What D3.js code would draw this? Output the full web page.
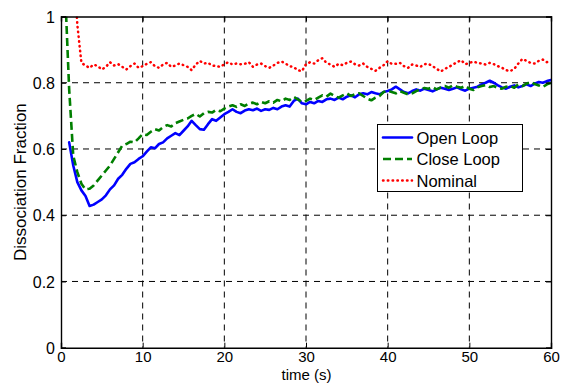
<!DOCTYPE html>
<html>
<head>
<meta charset="utf-8">
<script src="https://cdn.jsdelivr.net/npm/d3@7"></script>
<style>
  html, body { margin: 0; padding: 0; background: #fff; }
  svg { display: block; font-family: "Liberation Sans", Arial, Helvetica, sans-serif; }
</style>
</head>
<body>
<svg id="chart" width="562" height="383"></svg>
<script>
// ---- data ----
const timeStep = 0.5;              // samples every 0.5 s, from 0 to 60 s
const xTicks = [0, 10, 20, 30, 40, 50, 60];
const yTicks = [0, 0.2, 0.4, 0.6, 0.8, 1];
const yTickLabels = ["0", "0.2", "0.4", "0.6", "0.8", "1"];
const seriesNames = ["Open Loop", "Close Loop", "Nominal"];

const openLoop = [
  null, null, 0.62, 0.55, 0.50, 0.475, 0.458, 0.428, 0.432, 0.44,
  0.448, 0.46, 0.478, 0.49, 0.51, 0.522, 0.54, 0.555, 0.56, 0.57,
  0.578, 0.592, 0.605, 0.602, 0.615, 0.62, 0.632, 0.64, 0.648, 0.642,
  0.655, 0.668, 0.685, 0.672, 0.66, 0.658, 0.675, 0.69, 0.685, 0.695,
  0.705, 0.712, 0.72, 0.712, 0.708, 0.716, 0.72, 0.717, 0.722, 0.715,
  0.72, 0.718, 0.724, 0.72, 0.728, 0.732, 0.728, 0.745, 0.752, 0.738,
  0.735, 0.742, 0.738, 0.745, 0.742, 0.75, 0.752, 0.748, 0.755, 0.75,
  0.758, 0.762, 0.756, 0.765, 0.768, 0.765, 0.772, 0.768, 0.765, 0.772,
  0.775, 0.78, 0.788, 0.78, 0.772, 0.768, 0.775, 0.78, 0.776, 0.782,
  0.778, 0.774, 0.78, 0.785, 0.782, 0.778, 0.782, 0.786, 0.78, 0.776,
  0.782, 0.785, 0.788, 0.795, 0.80, 0.806, 0.80, 0.792, 0.786, 0.782,
  0.788, 0.792, 0.786, 0.79, 0.795, 0.79, 0.797, 0.802, 0.80, 0.805,
  0.808
];

const closeLoop = [
  null, 1.08, 0.78, 0.58, 0.53, 0.495, 0.478, 0.48, 0.49, 0.505,
  0.52, 0.535, 0.55, 0.57, 0.59, 0.61, 0.615, 0.622, 0.62, 0.632,
  0.645, 0.642, 0.652, 0.66, 0.656, 0.666, 0.672, 0.668, 0.678, 0.683,
  0.688, 0.692, 0.70, 0.706, 0.698, 0.708, 0.712, 0.71, 0.718, 0.714,
  0.722, 0.728, 0.732, 0.727, 0.735, 0.73, 0.737, 0.74, 0.735, 0.742,
  0.738, 0.744, 0.74, 0.748, 0.744, 0.752, 0.748, 0.757, 0.75, 0.742,
  0.745, 0.752, 0.748, 0.755, 0.762, 0.758, 0.767, 0.76, 0.755, 0.762,
  0.768, 0.76, 0.765, 0.768, 0.76, 0.752, 0.747, 0.755, 0.76, 0.772,
  0.776, 0.772, 0.768, 0.775, 0.77, 0.765, 0.768, 0.775, 0.78, 0.784,
  0.782, 0.787, 0.78, 0.786, 0.79, 0.785, 0.792, 0.788, 0.785, 0.79,
  0.782, 0.778, 0.786, 0.79, 0.793, 0.787, 0.79, 0.784, 0.782, 0.788,
  0.79, 0.785, 0.795, 0.79, 0.797, 0.802, 0.796, 0.792, 0.787, 0.795,
  0.80
];

const nominal = [
  null, null, null, 1.2, 0.975, 0.86, 0.852, 0.845, 0.855, 0.85,
  0.84, 0.848, 0.862, 0.852, 0.856, 0.848, 0.84, 0.85, 0.858, 0.845,
  0.85, 0.857, 0.862, 0.85, 0.845, 0.855, 0.86, 0.848, 0.852, 0.858,
  0.853, 0.848, 0.838, 0.855, 0.866, 0.858, 0.86, 0.852, 0.85, 0.848,
  0.856, 0.862, 0.855, 0.858, 0.856, 0.857, 0.862, 0.848, 0.855, 0.858,
  0.85, 0.845, 0.852, 0.86, 0.864, 0.858, 0.85, 0.847, 0.838, 0.835,
  0.856, 0.862, 0.858, 0.868, 0.874, 0.86, 0.855, 0.848, 0.857, 0.853,
  0.86, 0.864, 0.856, 0.852, 0.858, 0.848, 0.842, 0.836, 0.845, 0.853,
  0.865, 0.857, 0.857, 0.86, 0.85, 0.845, 0.855, 0.852, 0.848, 0.856,
  0.857, 0.85, 0.842, 0.834, 0.842, 0.848, 0.855, 0.862, 0.868, 0.856,
  0.86, 0.864, 0.86, 0.858, 0.855, 0.86, 0.856, 0.85, 0.845, 0.838,
  0.835, 0.842, 0.858, 0.872, 0.866, 0.86, 0.858, 0.866, 0.87, 0.862,
  0.868
];

// ---- layout ----
const svg = d3.select("#chart");
const L = 61, R = 551, T = 16.5, B = 347.7;
const x = d3.scaleLinear().domain([0, 60]).range([L, R]);
const y = d3.scaleLinear().domain([0, 1]).range([B, T]);
const time = openLoop.map((_, i) => i * timeStep);

// grid
const grid = svg.append("g");
grid.selectAll("line.gx").data(xTicks.slice(1, -1)).join("line")
  .attr("x1", d => x(d)).attr("x2", d => x(d)).attr("y1", T).attr("y2", B)
  .attr("stroke", "#000").attr("stroke-width", 1).attr("stroke-dasharray", "6,5");
grid.selectAll("line.gy").data(yTicks.slice(1, -1)).join("line")
  .attr("y1", d => y(d)).attr("y2", d => y(d)).attr("x1", L).attr("x2", R)
  .attr("stroke", "#000").attr("stroke-width", 1).attr("stroke-dasharray", "6,5");

// clip
svg.append("defs").append("clipPath").attr("id", "clip")
  .append("rect").attr("x", L).attr("y", T).attr("width", R - L).attr("height", B - T);

const line = d3.line()
  .defined(d => d[1] !== null)
  .x(d => x(d[0])).y(d => y(d[1]));

const styles = [
  { data: openLoop, color: "#0000ff", width: 2.6, dash: null, cap: "round" },
  { data: closeLoop, color: "#007f00", width: 2.6, dash: "8,4", cap: "butt" },
  { data: nominal, color: "#ff0000", width: 2.5, dash: "0.5,4.3", cap: "round" }
];

const plot = svg.append("g").attr("clip-path", "url(#clip)");
styles.forEach(s => {
  plot.append("path")
    .datum(time.map((t, i) => [t, s.data[i]]))
    .attr("fill", "none")
    .attr("stroke", s.color)
    .attr("stroke-width", s.width)
    .attr("stroke-linejoin", "round")
    .attr("stroke-linecap", s.cap)
    .attr("stroke-dasharray", s.dash)
    .attr("d", line);
});

// axes
const xAxis = d3.axisBottom(x).tickValues(xTicks).tickSize(-5).tickPadding(4).tickFormat(d3.format("d"));
const yAxis = d3.axisLeft(y).tickValues(yTicks).tickSize(-5).tickPadding(6).tickFormat((d, i) => yTickLabels[i]);
const xTop = d3.axisTop(x).tickValues(xTicks).tickSize(-5).tickFormat("");
const yRight = d3.axisRight(y).tickValues(yTicks).tickSize(-5).tickFormat("");

function styleAxis(g, fs) {
  g.select(".domain").attr("stroke", "#000").attr("stroke-width", 1.4);
  g.selectAll(".tick line").attr("stroke", "#000").attr("stroke-width", 1);
  g.selectAll(".tick text").attr("fill", "#000").attr("font-size", fs)
    .attr("font-family", "'Liberation Sans', Arial, Helvetica, sans-serif");
}
svg.append("g").attr("transform", `translate(0,${B})`).call(xAxis).call(styleAxis, 15);
svg.append("g").attr("transform", `translate(${L},0)`).call(yAxis).call(styleAxis, 16);
svg.append("g").attr("transform", `translate(0,${T})`).call(xTop).call(styleAxis, 16);
svg.append("g").attr("transform", `translate(${R},0)`).call(yRight).call(styleAxis, 16);
svg.selectAll("text").filter(function() { return this.getAttribute("dy") === "0.32em"; }).attr("dy", "0.35em");

// axis labels
svg.append("text").attr("x", (L + R) / 2 + 0.5).attr("y", 379.8)
  .attr("text-anchor", "middle").attr("font-size", 15).attr("fill", "#000").text("time (s)");
svg.append("text")
  .attr("transform", `translate(26,${(T + B) / 2}) rotate(-90)`)
  .attr("text-anchor", "middle").attr("font-size", 17).attr("fill", "#000")
  .text("Dissociation Fraction");

// legend
const lg = svg.append("g");
lg.append("rect").attr("x", 377.5).attr("y", 124.5).attr("width", 145).attr("height", 67)
  .attr("fill", "#fff").attr("stroke", "#000").attr("stroke-width", 1);
seriesNames.forEach((name, i) => {
  const s = styles[i];
  const yy = 137.5 + i * 21.5;
  lg.append("line").attr("x1", 383).attr("x2", 412).attr("y1", yy).attr("y2", yy)
    .attr("stroke", s.color).attr("stroke-width", s.width)
    .attr("stroke-linecap", s.cap).attr("stroke-dasharray", s.dash);
  lg.append("text").attr("x", 416.5).attr("y", yy + 6).attr("font-size", 16.5)
    .attr("fill", "#000").text(name);
});
</script>
</body>
</html>
